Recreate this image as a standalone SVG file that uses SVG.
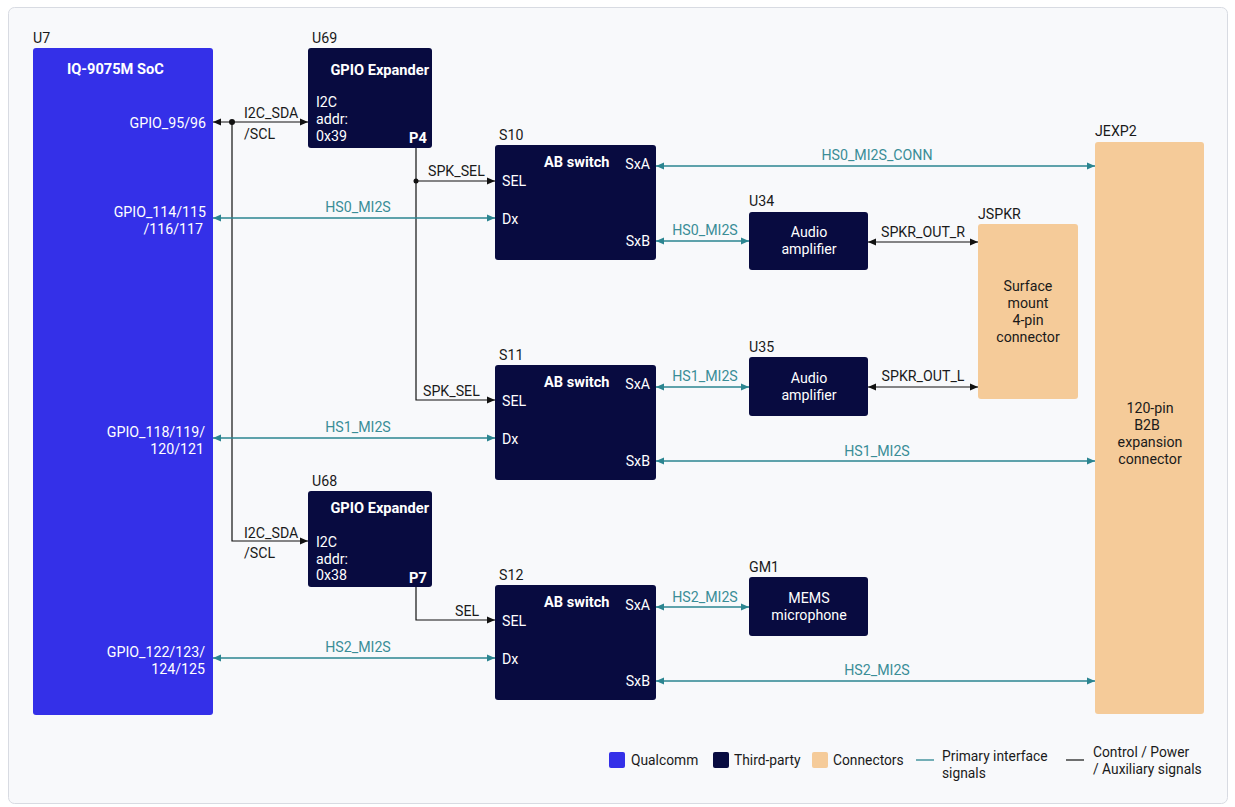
<svg xmlns="http://www.w3.org/2000/svg" width="1235" height="807" viewBox="0 0 1235 807">
<style>
text{font-family:Roboto,"Liberation Sans",sans-serif;font-size:14.2px;}
.lbl{fill:#1a1a1a;}
.w{fill:#ffffff;}
.b{font-weight:bold;font-size:14.6px;}
.t{fill:#3a8d97;}
.qc{fill:#3430e8;}
.tp{fill:#080b40;}
.cn{fill:#f5cb99;}
.sig{stroke:#2b8590;stroke-width:1.3;fill:none;}
.ctl{stroke:#111111;stroke-width:1.2;fill:none;}
.mid{text-anchor:middle;}
.end{text-anchor:end;}
.lg{font-size:13.8px;}
</style>
<defs>
<marker id="at" viewBox="0 0 8 8" refX="8" refY="4" markerWidth="8" markerHeight="8" markerUnits="userSpaceOnUse" orient="auto-start-reverse"><path d="M0,0.5 L8,4 L0,7.5 z" fill="#2b8590"/></marker>
<marker id="ab" viewBox="0 0 8 8" refX="8" refY="4" markerWidth="8" markerHeight="8" markerUnits="userSpaceOnUse" orient="auto-start-reverse"><path d="M0,0.5 L8,4 L0,7.5 z" fill="#111111"/></marker>
</defs>
<rect x="8.5" y="7.5" width="1219" height="796" rx="6" fill="#f8f9fb" stroke="#d8dbe2"/>

<g id="U7">
<rect class="qc" x="33" y="48" width="180" height="667" rx="3"/>
<text class="lbl" x="33" y="43">U7</text>
<text class="w b" x="67" y="74">IQ-9075M SoC</text>
<text class="w end" x="206" y="128">GPIO_95/96</text>
<text class="w end" x="206" y="217">GPIO_114/115</text>
<text class="w end" x="203" y="234">/116/117</text>
<text class="w end" x="205" y="437">GPIO_118/119/</text>
<text class="w end" x="204" y="454">120/121</text>
<text class="w end" x="205" y="657">GPIO_122/123/</text>
<text class="w end" x="205" y="674">124/125</text>
</g>

<g id="U69">
<rect class="tp" x="308" y="48" width="124" height="100" rx="3"/>
<text class="lbl" x="312" y="43">U69</text>
<text class="w b end" x="429" y="75">GPIO Expander</text>
<text class="w" x="316" y="107">I2C</text>
<text class="w" x="316" y="124">addr:</text>
<text class="w" x="316" y="141">0x39</text>
<text class="w b" x="409" y="143">P4</text>
</g>

<g id="U68">
<rect class="tp" x="308" y="491" width="124" height="96" rx="3"/>
<text class="lbl" x="312" y="486">U68</text>
<text class="w b end" x="429" y="513">GPIO Expander</text>
<text class="w" x="316" y="547">I2C</text>
<text class="w" x="316" y="564">addr:</text>
<text class="w" x="316" y="580">0x38</text>
<text class="w b" x="409" y="583">P7</text>
</g>

<g id="S10">
<rect class="tp" x="495" y="145" width="161" height="115" rx="3"/>
<text class="lbl" x="499" y="140">S10</text>
<text class="w b" x="544" y="167">AB switch</text>
<text class="w end" x="650" y="169">SxA</text>
<text class="w" x="502" y="186">SEL</text>
<text class="w" x="502" y="224">Dx</text>
<text class="w end" x="650" y="246">SxB</text>
</g>

<g id="S11">
<rect class="tp" x="495" y="365" width="161" height="115" rx="3"/>
<text class="lbl" x="499" y="360">S11</text>
<text class="w b" x="544" y="387">AB switch</text>
<text class="w end" x="650" y="389">SxA</text>
<text class="w" x="502" y="406">SEL</text>
<text class="w" x="502" y="444">Dx</text>
<text class="w end" x="650" y="466">SxB</text>
</g>

<g id="S12">
<rect class="tp" x="495" y="585" width="161" height="115" rx="3"/>
<text class="lbl" x="499" y="580">S12</text>
<text class="w b" x="544" y="607">AB switch</text>
<text class="w end" x="650" y="610">SxA</text>
<text class="w" x="502" y="626">SEL</text>
<text class="w" x="502" y="664">Dx</text>
<text class="w end" x="650" y="686">SxB</text>
</g>

<g id="U34">
<rect class="tp" x="749" y="212" width="119" height="58" rx="3"/>
<text class="lbl" x="749" y="206">U34</text>
<text class="w mid" x="809" y="237">Audio</text>
<text class="w mid" x="809" y="254">amplifier</text>
</g>

<g id="U35">
<rect class="tp" x="749" y="357" width="119" height="59" rx="3"/>
<text class="lbl" x="749" y="352">U35</text>
<text class="w mid" x="809" y="383">Audio</text>
<text class="w mid" x="809" y="400">amplifier</text>
</g>

<g id="GM1">
<rect class="tp" x="749" y="577" width="119" height="59" rx="3"/>
<text class="lbl" x="749" y="572">GM1</text>
<text class="w mid" x="809" y="603">MEMS</text>
<text class="w mid" x="809" y="620">microphone</text>
</g>

<g id="JSPKR">
<rect class="cn" x="978" y="224" width="100" height="175" rx="3"/>
<text class="lbl" x="978" y="219">JSPKR</text>
<text class="lbl mid" x="1028" y="291">Surface</text>
<text class="lbl mid" x="1028" y="308">mount</text>
<text class="lbl mid" x="1028" y="325">4-pin</text>
<text class="lbl mid" x="1028" y="342">connector</text>
</g>

<g id="JEXP2">
<rect class="cn" x="1095" y="142" width="109" height="572" rx="3"/>
<text class="lbl" x="1095" y="136">JEXP2</text>
<text class="lbl mid" x="1150" y="413">120-pin</text>
<text class="lbl mid" x="1147" y="430">B2B</text>
<text class="lbl mid" x="1150" y="447">expansion</text>
<text class="lbl mid" x="1150" y="464">connector</text>
</g>

<g id="connectors">
<line class="ctl" x1="213" y1="122" x2="308" y2="122" marker-start="url(#ab)" marker-end="url(#ab)"/>
<circle cx="232" cy="122" r="3" fill="#111"/>
<polyline class="ctl" points="232,122 232,541 308,541" marker-end="url(#ab)"/>
<text class="lbl" x="244" y="118">I2C_SDA</text>
<text class="lbl" x="244" y="139">/SCL</text>
<text class="lbl" x="244" y="538">I2C_SDA</text>
<text class="lbl" x="244" y="558">/SCL</text>
<polyline class="ctl" points="416,148 416,400 495,400" marker-end="url(#ab)"/>
<line class="ctl" x1="416" y1="181" x2="495" y2="181" marker-end="url(#ab)"/>
<circle cx="416" cy="181" r="2.5" fill="#111"/>
<text class="lbl" x="428" y="176">SPK_SEL</text>
<text class="lbl" x="423" y="396">SPK_SEL</text>
<polyline class="ctl" points="416,587 416,620 495,620" marker-end="url(#ab)"/>
<text class="lbl" x="455" y="616">SEL</text>
<line class="sig" x1="213" y1="218" x2="495" y2="218" marker-start="url(#at)" marker-end="url(#at)"/>
<text class="t mid" x="358" y="212">HS0_MI2S</text>
<line class="sig" x1="213" y1="438" x2="495" y2="438" marker-start="url(#at)" marker-end="url(#at)"/>
<text class="t mid" x="358" y="432">HS1_MI2S</text>
<line class="sig" x1="213" y1="658" x2="495" y2="658" marker-start="url(#at)" marker-end="url(#at)"/>
<text class="t mid" x="358" y="652">HS2_MI2S</text>
<line class="sig" x1="656" y1="166" x2="1095" y2="166" marker-start="url(#at)" marker-end="url(#at)"/>
<text class="t mid" x="877" y="160">HS0_MI2S_CONN</text>
<line class="sig" x1="656" y1="241" x2="749" y2="241" marker-start="url(#at)" marker-end="url(#at)"/>
<text class="t mid" x="705" y="235">HS0_MI2S</text>
<line class="ctl" x1="868" y1="242" x2="978" y2="242" marker-start="url(#ab)" marker-end="url(#ab)"/>
<text class="lbl mid" x="923" y="237">SPKR_OUT_R</text>
<line class="sig" x1="656" y1="387" x2="749" y2="387" marker-start="url(#at)" marker-end="url(#at)"/>
<text class="t mid" x="705" y="381">HS1_MI2S</text>
<line class="ctl" x1="868" y1="387" x2="978" y2="387" marker-start="url(#ab)" marker-end="url(#ab)"/>
<text class="lbl mid" x="923" y="381">SPKR_OUT_L</text>
<line class="sig" x1="656" y1="461" x2="1095" y2="461" marker-start="url(#at)" marker-end="url(#at)"/>
<text class="t mid" x="877" y="456">HS1_MI2S</text>
<line class="sig" x1="656" y1="607" x2="749" y2="607" marker-start="url(#at)" marker-end="url(#at)"/>
<text class="t mid" x="705" y="602">HS2_MI2S</text>
<line class="sig" x1="656" y1="681" x2="1095" y2="681" marker-start="url(#at)" marker-end="url(#at)"/>
<text class="t mid" x="877" y="675">HS2_MI2S</text>
</g>

<g id="legend">
<rect class="qc" x="609" y="752" width="16" height="16" rx="2"/>
<text class="lbl lg" x="631" y="765">Qualcomm</text>
<rect class="tp" x="713" y="752" width="16" height="16" rx="2"/>
<text class="lbl lg" x="734" y="765">Third-party</text>
<rect class="cn" x="812" y="752" width="16" height="16" rx="2"/>
<text class="lbl lg" x="833" y="765">Connectors</text>
<line class="sig" x1="916" y1="760" x2="934" y2="760"/>
<text class="lbl lg" x="942" y="761">Primary interface</text>
<text class="lbl lg" x="942" y="778">signals</text>
<line class="ctl" x1="1066" y1="760" x2="1084" y2="760"/>
<text class="lbl lg" x="1093" y="757">Control / Power</text>
<text class="lbl lg" x="1093" y="774">/ Auxiliary signals</text>
</g>
</svg>
